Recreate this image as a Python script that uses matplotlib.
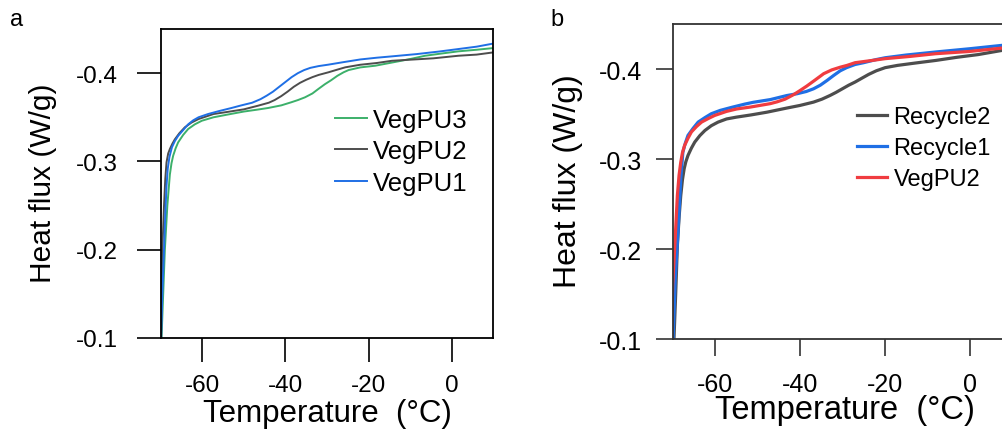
import matplotlib
matplotlib.use("Agg")
import matplotlib.pyplot as plt

# ---------------- data ----------------
# Panel a
t_vegpu3_a = [-69.8, -69.4, -69.0, -68.4, -67.8, -67.4, -67.0, -66.4, -65.8, -64.6, -63.4, -61.8, -60.1,
              -57.3, -54.0, -50.0, -47.0, -44.2, -41.0, -38.6, -37.0, -35.3, -33.5, -32.1, -30.5, -29.0,
              -27.5, -26.0, -24.8, -22.0, -18.4, -15.5, -12.8, -9.5, -6.4, -2.0, 1.6, 6.0, 10.0]
hf_vegpu3_a = [-0.100, -0.150, -0.200, -0.250, -0.285, -0.298, -0.3065, -0.315, -0.3216, -0.330, -0.3367, -0.342, -0.3461,
               -0.350, -0.353, -0.3565, -0.3585, -0.3605, -0.3635, -0.367, -0.3695, -0.3726, -0.377, -0.382, -0.3875, -0.392,
               -0.397, -0.401, -0.4035, -0.4065, -0.4084, -0.411, -0.4134, -0.4165, -0.4197, -0.4225, -0.4247, -0.4265, -0.4284]

t_vegpu2_a = [-69.9, -69.6, -69.2, -68.9, -68.6, -68.2, -67.8, -67.2, -66.6, -65.5, -64.2, -62.6, -60.9,
              -57.3, -54.6, -50.0, -46.6, -44.0, -42.6, -41.0, -39.5, -38.0, -36.5, -35.0, -33.5, -32.0,
              -29.7, -27.5, -25.6, -22.0, -18.0, -14.4, -9.0, -4.4, 1.6, 6.0, 10.0]
hf_vegpu2_a = [-0.100, -0.200, -0.250, -0.280, -0.299, -0.309, -0.314, -0.320, -0.325, -0.332, -0.3386, -0.344, -0.348,
               -0.3537, -0.3556, -0.359, -0.3631, -0.3665, -0.3695, -0.374, -0.379, -0.3845, -0.389, -0.3925, -0.3955, -0.398,
               -0.4009, -0.404, -0.4066, -0.4095, -0.4115, -0.414, -0.4155, -0.4168, -0.4197, -0.421, -0.4235]

t_vegpu1_a = [-69.9, -69.6, -69.2, -68.9, -68.6, -68.3, -67.9, -67.3, -66.6, -65.8, -64.6, -63.4, -62.2,
              -60.9, -58.6, -56.0, -53.0, -50.6, -48.0, -46.0, -44.5, -43.0, -41.5, -40.0, -38.5, -37.0,
              -35.5, -34.0, -32.0, -29.7, -26.0, -22.0, -18.0, -14.4, -8.4, -3.0, 1.6, 6.0, 10.0]
hf_vegpu1_a = [-0.100, -0.150, -0.200, -0.240, -0.2725, -0.292, -0.305, -0.316, -0.323, -0.329, -0.3355, -0.342, -0.3465,
               -0.350, -0.3537, -0.357, -0.3605, -0.3635, -0.3665, -0.3705, -0.3745, -0.379, -0.3845, -0.390, -0.3955, -0.400,
               -0.4035, -0.406, -0.408, -0.4096, -0.4125, -0.4155, -0.4175, -0.419, -0.4216, -0.4245, -0.4273, -0.430, -0.4335]

# Panel b
t_recycle2_b = [-69.7, -69.3, -68.9, -68.5, -68.1, -67.7, -67.3, -66.9, -66.4, -65.6, -64.8, -63.6, -62.4,
                -60.9, -59.3, -57.3, -55.0, -51.5, -47.8, -43.1, -40.0, -36.8, -34.8, -32.9, -31.5, -30.0,
                -28.5, -27.0, -25.5, -23.8, -22.0, -19.9, -17.0, -13.0, -8.0, -3.0, 2.0, 7.7, 10.0]
hf_recycle2_b = [-0.100, -0.150, -0.2038, -0.235, -0.2594, -0.277, -0.2891, -0.297, -0.3039, -0.312, -0.3188, -0.326, -0.3317,
                 -0.337, -0.341, -0.3445, -0.3465, -0.349, -0.352, -0.3566, -0.3595, -0.3632, -0.3665, -0.3706, -0.374, -0.378,
                 -0.382, -0.3855, -0.3895, -0.394, -0.398, -0.4015, -0.404, -0.4065, -0.4095, -0.413, -0.416, -0.4207, -0.4222]

t_recycle1_b = [-69.9, -69.4, -68.7, -68.1, -67.6, -67.0, -66.4, -65.2, -64.0, -62.4, -60.9, -58.8, -56.0,
                -53.0, -51.0, -47.0, -43.1, -40.7, -38.5, -36.8, -35.2, -33.6, -32.0, -30.5, -29.0, -27.0,
                -25.0, -22.0, -19.9, -15.0, -8.0, 0.0, 7.7, 10.0]
hf_recycle1_b = [-0.100, -0.1667, -0.2224, -0.278, -0.3077, -0.318, -0.3262, -0.334, -0.341, -0.346, -0.3503, -0.354, -0.3575,
                 -0.361, -0.363, -0.366, -0.3705, -0.3725, -0.375, -0.378, -0.382, -0.3873, -0.393, -0.398, -0.4015, -0.405,
                 -0.407, -0.4105, -0.4125, -0.4155, -0.4189, -0.4225, -0.4263, -0.4270]

t_vegpu2_b = [-70.3, -70.0, -69.5, -68.9, -68.5, -68.1, -67.7, -67.2, -66.4, -65.6, -64.4, -63.2, -61.6,
              -60.1, -57.3, -54.9, -51.7, -47.0, -45.4, -43.5, -41.5, -40.0, -38.4, -36.5, -34.4, -32.5,
              -30.5, -28.9, -27.0, -23.0, -19.9, -14.0, -8.0, 0.0, 7.7, 10.0]
hf_vegpu2_b = [-0.100, -0.160, -0.2038, -0.2594, -0.282, -0.2965, -0.307, -0.315, -0.323, -0.330, -0.336, -0.341, -0.345,
               -0.3484, -0.3529, -0.3556, -0.3577, -0.3615, -0.3635, -0.3665, -0.3715, -0.376, -0.381, -0.3875, -0.3948, -0.399,
               -0.402, -0.404, -0.407, -0.4095, -0.4115, -0.414, -0.417, -0.4195, -0.4233, -0.4240]

yticks = [-0.1, -0.2, -0.3, -0.4]
xticks = [-60, -40, -20, 0]

GREEN = "#3cb06a"
GRAY = "#4d4d4d"
BLUE = "#1f6fe5"
RED = "#f03c40"

FONT = ["Liberation Sans", "DejaVu Sans"]
plt.rcParams["font.family"] = FONT

fig = plt.figure(figsize=(10.02, 4.31), dpi=100)
W, H = 1002.0, 431.0


def make_axes(l, r, t, b):
    return fig.add_axes([l / W, 1 - b / H, (r - l) / W, (b - t) / H])


def style(ax, ticklen, tsize, ypad, xpad, spine_color):
    ax.set_xlim(-70, 10)
    ax.set_ylim(-0.1, -0.45)
    ax.set_xticks(xticks)
    ax.set_yticks(yticks)
    ax.set_xticklabels([str(v) for v in xticks])
    ax.set_yticklabels([f"{v:.1f}" for v in yticks])
    ax.tick_params(axis="both", direction="out", length=ticklen, width=1.2,
                   labelsize=tsize, color=spine_color)
    ax.tick_params(axis="y", pad=ypad)
    ax.tick_params(axis="x", pad=xpad)
    for s in ax.spines.values():
        s.set_color(spine_color)
        s.set_linewidth(1.3)


# ---------------- panel a ----------------
axa = make_axes(160.7, 493.3, 30, 339)
lw_a = 1.4
axa.plot(t_vegpu3_a, hf_vegpu3_a, color=GREEN, lw=lw_a, label="VegPU3")
axa.plot(t_vegpu2_a, hf_vegpu2_a, color=GRAY, lw=lw_a, label="VegPU2")
axa.plot(t_vegpu1_a, hf_vegpu1_a, color=BLUE, lw=lw_a, label="VegPU1")
style(axa, 17, 17.5, 14, 9, "black")
axa.legend(loc="upper left", bbox_to_anchor=(0.524, 0.745), frameon=False,
           fontsize=18.5, handlelength=1.23, handletextpad=0.25,
           labelspacing=0.29, borderpad=0, borderaxespad=0)

fig.text(43 / W, 1 - 183 / H, "Heat flux (W/g)", rotation=90, ha="center",
         va="center", fontsize=21.5)
fig.text(327 / W, 1 - 414 / H, "Temperature  (\u00b0C)", ha="center",
         va="center", fontsize=22.5)
fig.text(17 / W, 1 - 20 / H, "a", ha="center", va="center", fontsize=17)

# ---------------- panel b ----------------
axb = make_axes(672.7, 1012.0, 25, 340)
lw_b = 2.3
axb.plot(t_recycle2_b, hf_recycle2_b, color=GRAY, lw=lw_b, label="Recycle2")
axb.plot(t_recycle1_b, hf_recycle1_b, color=BLUE, lw=lw_b, label="Recycle1")
axb.plot(t_vegpu2_b, hf_vegpu2_b, color=RED, lw=lw_b, label="VegPU2")
style(axb, 12.5, 18, 9.5, 11, "#333333")
axb.legend(loc="upper left", bbox_to_anchor=(0.543, 0.74), frameon=False,
           fontsize=17, handlelength=1.29, handletextpad=0.26,
           labelspacing=0.38, borderpad=0, borderaxespad=0)

fig.text(568 / W, 1 - 181.5 / H, "Heat flux (W/g)", rotation=90, ha="center",
         va="center", fontsize=23)
fig.text(845 / W, 1 - 411 / H, "Temperature  (\u00b0C)", ha="center",
         va="center", fontsize=23.5)
fig.text(557 / W, 1 - 20 / H, "b", ha="center", va="center", fontsize=17)

fig.savefig("out.png", dpi=100)
